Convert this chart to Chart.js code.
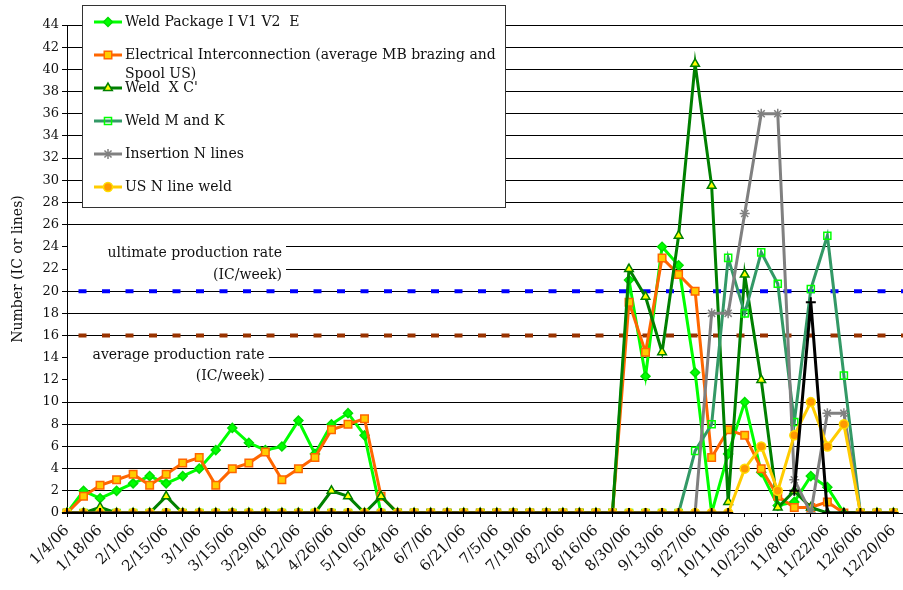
<!DOCTYPE html>
<html>
<head>
<meta charset="utf-8">
<script src="https://cdn.jsdelivr.net/npm/chart.js"></script>
<style>
    html, body { margin: 0; padding: 0; background: #fff; overflow: hidden; }
    canvas { display: block; }
</style>
</head>
<body>
<canvas id="production-chart" width="917" height="590"></canvas>
<script>
const weeks = [
    "1/4/06", "1/11/06", "1/18/06", "1/25/06", "2/1/06", "2/8/06", "2/15/06", "2/22/06",
    "3/1/06", "3/8/06", "3/15/06", "3/22/06", "3/29/06", "4/5/06", "4/12/06", "4/19/06",
    "4/26/06", "5/3/06", "5/10/06", "5/17/06", "5/24/06", "5/31/06", "6/7/06", "6/14/06",
    "6/21/06", "6/28/06", "7/5/06", "7/12/06", "7/19/06", "7/26/06", "8/2/06", "8/9/06",
    "8/16/06", "8/23/06", "8/30/06", "9/6/06", "9/13/06", "9/20/06", "9/27/06", "10/4/06",
    "10/11/06", "10/18/06", "10/25/06", "11/1/06", "11/8/06", "11/15/06", "11/22/06", "11/29/06",
    "12/6/06", "12/13/06", "12/20/06", "12/27/06"
];

const weldPackage = [
    0, 2, 1.33, 2, 2.67, 3.33, 2.67, 3.33, 4, 5.67, 7.67, 6.33, 5.67, 6, 8.33, 5.33,
    8, 9, 7, 0, 0, 0, 0, 0, 0, 0, 0, 0, 0, 0, 0, 0,
    0, 0, 21, 12.33, 24, 22.33, 12.67, 0, 5.33, 10, 3.67, 0.67, 1, 3.33, 2.33, 0,
    0, 0, 0, null
];
const electrical = [
    0, 1.5, 2.5, 3, 3.5, 2.5, 3.5, 4.5, 5, 2.5, 4, 4.5, 5.5, 3, 4, 5,
    7.5, 8, 8.5, 1.5, 0, 0, 0, 0, 0, 0, 0, 0, 0, 0, 0, 0,
    0, 0, 19, 14.5, 23, 21.5, 20, 5, 7.5, 7, 4, 1.5, 0.5, 0.5, 1, 0,
    0, 0, 0, null
];
const weldXC = [
    0, 0, 0.5, 0, 0, 0, 1.5, 0, 0, 0, 0, 0, 0, 0, 0, 0,
    2, 1.5, 0, 1.5, 0, 0, 0, 0, 0, 0, 0, 0, 0, 0, 0, 0,
    0, 0, 22, 19.5, 14.5, 25, 40.5, 29.5, 1, 21.5, 12, 0.5, 2, 0.5, 0, 0,
    0, 0, 0, null
];
const weldMK = [
    0, 0, 0, 0, 0, 0, 0, 0, 0, 0, 0, 0, 0, 0, 0, 0,
    0, 0, 0, 0, 0, 0, 0, 0, 0, 0, 0, 0, 0, 0, 0, 0,
    0, 0, 0, 0, 0, 0, 5.6, 8, 23, 18, 23.5, 20.67, 8.2, 20.2, 25, 12.4,
    0, 0, 0, null
];
const insertionN = [
    0, 0, 0, 0, 0, 0, 0, 0, 0, 0, 0, 0, 0, 0, 0, 0,
    0, 0, 0, 0, 0, 0, 0, 0, 0, 0, 0, 0, 0, 0, 0, 0,
    0, 0, 0, 0, 0, 0, 0, 18, 18, 27, 36, 36, 3, 0, 9, 9,
    0, 0, 0, null
];
const usNLine = [
    0, 0, 0, 0, 0, 0, 0, 0, 0, 0, 0, 0, 0, 0, 0, 0,
    0, 0, 0, 0, 0, 0, 0, 0, 0, 0, 0, 0, 0, 0, 0, 0,
    0, 0, 0, 0, 0, 0, 0, 0, 0, 4, 6, 2, 7, 10, 6, 8,
    0, 0, 0, null
];
const otherSeries = [
    0, 0, 0, 0, 0, 0, 0, 0, 0, 0, 0, 0, 0, 0, 0, 0,
    0, 0, 0, 0, 0, 0, 0, 0, 0, 0, 0, 0, 0, 0, 0, 0,
    0, 0, 0, 0, 0, 0, 0, 0, 0, null, null, null, 2, 19, 0, 0,
    0, 0, 0, null
];
const ultimateRate = [
    20, 20, 20, 20, 20, 20, 20, 20, 20, 20, 20, 20, 20, 20, 20, 20,
    20, 20, 20, 20, 20, 20, 20, 20, 20, 20, 20, 20, 20, 20, 20, 20,
    20, 20, 20, 20, 20, 20, 20, 20, 20, 20, 20, 20, 20, 20, 20, 20,
    20, 20, 20, 20
];
const averageRate = [
    16, 16, 16, 16, 16, 16, 16, 16, 16, 16, 16, 16, 16, 16, 16, 16,
    16, 16, 16, 16, 16, 16, 16, 16, 16, 16, 16, 16, 16, 16, 16, 16,
    16, 16, 16, 16, 16, 16, 16, 16, 16, 16, 16, 16, 16, 16, 16, 16,
    16, 16, 16, 16
];

const serif = "'DejaVu Serif', serif";
const textColor = "#111";

// text boxes over the grid, placed in axis units
const rateNotes = [
    { lines: ["ultimate production rate", "(IC/week)"], at: [23.45, 21.45], top: 25.2, bottom: 20.7, xEnd: 13.25 },
    { lines: ["average production rate", "(IC/week)"], at: [14.25, 12.3], top: 15.2, bottom: 11.1, xEnd: 12.2 },
];
const legendBox = { x: 82, y: 5, w: 423, h: 202, firstRow: 17, rowStep: 33, lineGap: 19.5 };

function series(label, data, color, style, radius, fill, border, order) {
    return {
        label: label,
        data: data,
        borderColor: color,
        backgroundColor: color,
        borderWidth: 3,
        tension: 0,
        pointStyle: style,
        pointRadius: radius,
        pointBackgroundColor: fill,
        pointBorderColor: border,
        pointBorderWidth: 1.5,
        order: order,
    };
}

const rateLabels = {
    id: "rateLabels",
    beforeDatasetsDraw: function (chart) {
        const ctx = chart.ctx;
        const xs = chart.scales.x;
        const ys = chart.scales.y;
        const left = chart.chartArea.left + 1;
        ctx.save();
        ctx.font = "14px " + serif;
        ctx.textAlign = "right";
        ctx.textBaseline = "middle";
        rateNotes.forEach(function (n) {
            const right = xs.getPixelForValue(n.xEnd);
            const top = ys.getPixelForValue(n.top);
            ctx.fillStyle = "#fff";
            ctx.fillRect(left, top, right - left, ys.getPixelForValue(n.bottom) - top);
            ctx.fillStyle = textColor;
            n.lines.forEach(function (t, i) {
                ctx.fillText(t, right - 4, ys.getPixelForValue(n.at[i]));
            });
        });
        ctx.restore();
    },
};

const boxLegend = {
    id: "boxLegend",
    afterDraw: function (chart) {
        const ctx = chart.ctx;
        const b = legendBox;
        ctx.save();
        ctx.fillStyle = "#fff";
        ctx.fillRect(b.x, b.y, b.w, b.h);
        ctx.strokeStyle = "#333";
        ctx.lineWidth = 1;
        ctx.strokeRect(b.x + 0.5, b.y + 0.5, b.w, b.h);
        ctx.font = "14px " + serif;
        ctx.textAlign = "left";
        ctx.textBaseline = "middle";
        const maxW = b.x + b.w - 130;
        chart.data.datasets.slice(0, 6).forEach(function (ds, i) {
            const y = b.y + b.firstRow + b.rowStep * i;
            ctx.strokeStyle = ds.borderColor;
            ctx.lineWidth = 3;
            ctx.beginPath();
            ctx.moveTo(b.x + 12, y);
            ctx.lineTo(b.x + 40, y);
            ctx.stroke();
            ctx.fillStyle = ds.pointBackgroundColor;
            ctx.strokeStyle = ds.pointBorderColor;
            ctx.lineWidth = ds.pointBorderWidth;
            Chart.helpers.drawPoint(ctx, {
                pointStyle: ds.pointStyle,
                radius: ds.pointRadius,
                rotation: 0,
                borderWidth: ds.pointBorderWidth,
            }, b.x + 26, y);
            // wrap long labels inside the box
            const words = ds.label.split(" ");
            const lines = [];
            let line = "";
            words.forEach(function (w) {
                const test = line ? line + " " + w : w;
                if (line && ctx.measureText(test).width > maxW) {
                    lines.push(line);
                    line = w;
                } else {
                    line = test;
                }
            });
            lines.push(line);
            ctx.fillStyle = textColor;
            lines.forEach(function (t, k) {
                ctx.fillText(t, b.x + 43, y + k * b.lineGap);
            });
        });
        ctx.restore();
    },
};

const option = {
    responsive: false,
    animation: false,
    layout: {
        padding: { top: 25, right: 0, bottom: 0, left: 0 },
    },
    scales: {
        x: {
            type: "category",
            offset: false,
            grid: {
                display: true,
                drawOnChartArea: false,
                drawTicks: true,
                tickLength: 4,
                color: "#000",
            },
            border: { color: "#000", width: 1 },
            ticks: {
                autoSkip: false,
                maxRotation: 45,
                minRotation: 45,
                padding: 5,
                color: textColor,
                font: { family: serif, size: 15 },
                callback: function (value, index) {
                    return index % 2 === 0 ? weeks[index] : "";
                },
            },
            afterFit: function (scale) {
                scale.height = 77;
                scale.paddingRight = 0;
            },
        },
        y: {
            min: 0,
            max: 44,
            grid: {
                color: "#000",
                lineWidth: 1,
                tickLength: 5,
            },
            border: { color: "#000", width: 1 },
            ticks: {
                stepSize: 2,
                padding: 3,
                color: textColor,
                font: { family: serif, size: 13 },
            },
            title: {
                display: true,
                text: "Number (IC or lines)",
                color: textColor,
                font: { family: serif, size: 14 },
                padding: { top: 10, bottom: 0 },
            },
            afterFit: function (scale) {
                scale.width = 67;
            },
        },
    },
    plugins: {
        legend: { display: false },
        tooltip: { enabled: false },
    },
};

const datasets = [
    series("Weld Package I V1 V2  E", weldPackage, "#00FF00", "rectRot", 4.5, "#00FF00", "#00DD00", 7),
    series("Electrical Interconnection (average MB brazing and Spool US)", electrical, "#FF6600", "rect", 5.3, "#FFCC00", "#FF6600", 6),
    series("Weld  X C'", weldXC, "#008000", "triangle", 5, "#FFFF00", "#008000", 5),
    series("Weld M and K", weldMK, "#339966", "rect", 5, "rgba(255,255,255,0)", "#00FF00", 4),
    series("Insertion N lines", insertionN, "#808080", "star", 5, "#808080", "#808080", 3),
    series("US N line weld", usNLine, "#FFCC00", "circle", 4.5, "#FF9900", "#FFDD00", 2),
    series("", otherSeries, "#000000", "cross", 5, "#000000", "#000000", 1),
    {
        label: "ultimate production rate",
        data: ultimateRate,
        borderColor: "#0000FF",
        borderWidth: 4,
        borderDash: [8, 15.5],
        borderDashOffset: 12,
        pointRadius: 0,
        order: 9,
    },
    {
        label: "average production rate",
        data: averageRate,
        borderColor: "#993300",
        borderWidth: 4,
        borderDash: [8, 15.5],
        borderDashOffset: 12,
        pointRadius: 0,
        order: 8,
    },
];
datasets[6].borderWidth = 3;
datasets[6].pointBorderWidth = 2;

var ctx = document.getElementById("production-chart").getContext("2d");

new Chart(ctx, {
    type: "line",
    data: {
        labels: weeks,
        datasets: datasets,
    },
    options: option,
    plugins: [rateLabels, boxLegend],
});
</script>
</body>
</html>
